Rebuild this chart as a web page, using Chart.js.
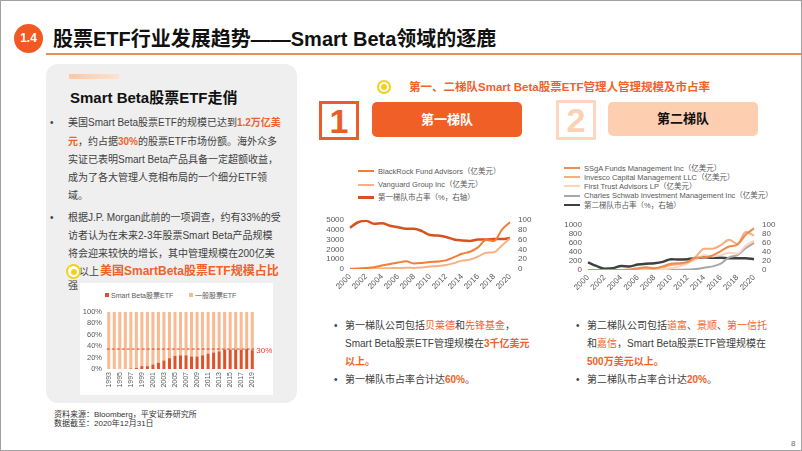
<!DOCTYPE html>
<html>
<head>
<meta charset="utf-8">
<script src="https://cdn.jsdelivr.net/npm/chart.js@4.4.0/dist/chart.umd.min.js"></script>
<style>
html, body { margin: 0; padding: 0; background: #fff; }
#slide {
    position: relative; width: 802px; height: 451px; overflow: hidden; box-sizing: border-box;
    border: 1px solid #a0a0a0;
    font-family: "Liberation Sans", "Noto Sans CJK SC", sans-serif; color: #404040;
}
.a { position: absolute; white-space: nowrap; }
.t { position: absolute; white-space: nowrap; font-size: 10px; line-height: 14px; height: 14px; }
.o { color: #f0622a; }
.ob { color: #f0622a; font-weight: bold; }
.lg { position: absolute; white-space: nowrap; font-size: 7.5px; line-height: 9px; color: #595959; }
.lg i { position: absolute; left: -20px; top: 3.5px; width: 16px; height: 2px; }
canvas { position: absolute; }
</style>
</head>
<body>
<div id="slide">
    <!-- 标题 -->
    <div class="a" style="left:13px;top:23px;width:29px;height:29px;border-radius:50%;background:#f05a22;color:#fff;font-weight:bold;font-size:12px;line-height:29px;text-align:center;">1.4</div>
    <div class="a" style="left:52px;top:25px;font-size:20px;line-height:26px;font-weight:bold;color:#111;">股票ETF行业发展趋势——Smart Beta领域的逐鹿</div>
    <div class="a" style="left:45px;top:52px;width:757px;height:2px;background:#f08a5a;"></div>

    <!-- 左侧面板 -->
    <div class="a" style="left:45px;top:63px;width:251px;height:339px;border-radius:12px;background:#efefef;"></div>
    <div class="a" style="left:68px;top:73px;width:50px;height:5px;background:linear-gradient(90deg,#fbc8a5,#fde3d1);"></div>
    <div class="a" style="left:69px;top:88px;font-size:15px;line-height:18px;font-weight:bold;color:#111;">Smart Beta股票ETF走俏</div>

    <div class="t" style="left:49px;top:115px;">•</div>
    <div class="t" style="left:67px;top:115px;">美国Smart Beta股票ETF的规模已达到<span class="ob">1.2万亿美</span></div>
    <div class="t" style="left:67px;top:133.5px;"><span class="ob">元</span>，约占据<span class="ob">30%</span>的股票ETF市场份额。海外众多</div>
    <div class="t" style="left:67px;top:151.7px;">实证已表明Smart Beta产品具备一定超额收益，</div>
    <div class="t" style="left:67px;top:170px;">成为了各大管理人竞相布局的一个细分ETF领</div>
    <div class="t" style="left:67px;top:188px;">域。</div>
    <div class="t" style="left:49px;top:209.7px;">•</div>
    <div class="t" style="left:67px;top:209.7px;">根据J.P. Morgan此前的一项调查，约有33%的受</div>
    <div class="t" style="left:67px;top:227.7px;">访者认为在未来2-3年股票Smart Beta产品规模</div>
    <div class="t" style="left:67px;top:245.5px;">将会迎来较快的增长，其中管理规模在200亿美</div>
    <div class="t" style="left:78px;top:263.5px;">以上</div>
    <div class="t" style="left:67px;top:278px;">强</div>
    <div class="a" style="left:65px;top:263px;width:11px;height:11px;border-radius:50%;border:2px solid #f5cf1c;background:#fff;"></div>
    <div class="a" style="left:69.5px;top:267.5px;width:6px;height:6px;border-radius:50%;background:#f5cf1c;"></div>
    <div class="a" style="left:99px;top:262px;font-size:12px;line-height:16px;font-weight:bold;color:#f0622a;">美国SmartBeta股票ETF规模占比</div>

    <div class="a" style="left:79px;top:282px;width:193px;height:112px;background:#fff;"></div>
    <div id="legend1"></div>
    <canvas id="c1" width="194" height="88" style="left:79px;top:302px;"></canvas>

    <!-- 中间标题 -->
    <div class="a" style="left:376px;top:79px;width:10px;height:10px;border-radius:50%;border:2px solid #f5cf1c;"></div>
    <div class="a" style="left:380px;top:83px;width:6px;height:6px;border-radius:50%;background:#f5cf1c;"></div>
    <div class="a" style="left:408px;top:78px;font-size:11.5px;line-height:16px;font-weight:bold;color:#f0622a;">第一、二梯队Smart Beta股票ETF管理人管理规模及市占率</div>

    <div class="a" style="left:318px;top:100px;width:34px;height:33px;border:3px solid #ea5d28;color:#ea5d28;font-weight:bold;font-size:34px;line-height:34px;text-align:center;">1</div>
    <div class="a" style="left:371px;top:101px;width:150px;height:35px;border-radius:5px;background:#ef5f26;color:#fff;font-weight:bold;font-size:13px;line-height:35px;text-align:center;">第一梯队</div>
    <div class="a" style="left:555px;top:99px;width:34px;height:34px;border:3px solid #fcd6bf;color:#fcd0b5;font-weight:bold;font-size:34px;line-height:35px;text-align:center;">2</div>
    <div class="a" style="left:607px;top:101px;width:150px;height:34px;border-radius:5px;background:#fdceb0;color:#111;font-weight:bold;font-size:13px;line-height:34px;text-align:center;">第二梯队</div>

    <div id="legend2"></div>
    <canvas id="c2" width="217" height="86" style="left:318px;top:206px;"></canvas>
    <div id="legend3"></div>
    <canvas id="c3" width="222" height="82" style="left:556px;top:211px;"></canvas>

    <!-- 下方说明 -->
    <div class="t" style="left:333px;top:318px;">•</div>
    <div class="t" style="left:344px;top:318px;">第一梯队公司包括<span class="o">贝莱德</span>和<span class="o">先锋基金</span>，</div>
    <div class="t" style="left:344px;top:336px;">Smart Beta股票ETF管理规模在<span class="ob">3千亿美元</span></div>
    <div class="t" style="left:344px;top:354px;"><span class="ob">以上。</span></div>
    <div class="t" style="left:333px;top:372px;">•</div>
    <div class="t" style="left:344px;top:372px;">第一梯队市占率合计达<span class="ob">60%</span>。</div>

    <div class="t" style="left:575px;top:318px;">•</div>
    <div class="t" style="left:586px;top:318px;">第二梯队公司包括<span class="o">道富</span>、<span class="o">景顺</span>、<span class="o">第一信托</span></div>
    <div class="t" style="left:586px;top:336px;">和<span class="o">嘉信</span>，Smart Beta股票ETF管理规模在</div>
    <div class="t" style="left:586px;top:354px;"><span class="ob">500万美元以上。</span></div>
    <div class="t" style="left:575px;top:372px;">•</div>
    <div class="t" style="left:586px;top:372px;">第二梯队市占率合计达<span class="ob">20%</span>。</div>

    <div class="a" style="left:53px;top:409px;font-size:8px;line-height:10px;color:#333;">资料来源：Bloomberg，平安证券研究所</div>
    <div class="a" style="left:53px;top:418px;font-size:8px;line-height:10px;color:#333;">数据截至：2020年12月31日</div>
    <div class="a" style="left:790px;top:438px;font-size:8px;line-height:10px;color:#666;">8</div>
</div>

<script>
// 美国Smart Beta股票ETF规模占比（%）
const barYears = ['1993', '1994', '1995', '1996', '1997', '1998', '1999', '2000', '2001', '2002', '2003', '2004', '2005',
    '2006', '2007', '2008', '2009', '2010', '2011', '2012', '2013', '2014', '2015', '2016', '2017', '2018', '2019'];
const smartBetaShare = [0, 0, 0, 0, 1, 2, 5, 5, 8, 11, 15, 19, 23, 24, 24, 22, 22, 24, 27, 29, 31, 34, 34, 34, 34, 35, 33];
const generalShare = [100, 100, 100, 100, 99, 98, 95, 95, 92, 89, 85, 81, 77, 76, 76, 78, 78, 76, 73, 71, 69, 66, 66, 66, 66, 65, 67];
const barNames = ['Smart Beta股票ETF', '一般股票ETF'];
const refValue = 35;
const refLabel = '30%';

// 第一、二梯队管理规模（亿美元）及市占率（%）
const lineYears = ['2000', '2001', '2002', '2003', '2004', '2005', '2006', '2007', '2008', '2009', '2010',
    '2011', '2012', '2013', '2014', '2015', '2016', '2017', '2018', '2019', '2020'];
const blackrock = [30, 50, 100, 180, 350, 500, 650, 780, 560, 620, 720, 760, 880, 1200, 1550, 1750, 2200, 2950, 2850, 4000, 4750];
const vanguard = [0, 10, 20, 40, 60, 80, 100, 120, 110, 160, 250, 300, 400, 600, 850, 950, 1250, 1650, 1700, 2400, 3100];
const tier1Share = [84, 95, 98, 92, 93, 88, 85, 82, 82, 77, 69, 68, 65, 60, 58, 57, 60, 60, 61, 61, 63];
const tier1Names = ['BlackRock Fund Advisors（亿美元）', 'Vanguard Group Inc（亿美元）', '第一梯队市占率（%，右轴）'];

const ssga = [0, 0, 0, 0, 0, 10, 40, 60, 40, 80, 140, 150, 180, 270, 280, 320, 420, 520, 560, 780, 920];
const invesco = [0, 0, 0, 0, 0, 0, 20, 40, 30, 60, 110, 130, 170, 300, 470, 470, 550, 670, 580, 840, 760];
const firstTrust = [0, 0, 0, 0, 0, 0, 0, 0, 0, 10, 40, 80, 150, 240, 330, 300, 330, 380, 360, 540, 650];
const schwab = [0, 0, 0, 0, 0, 0, 0, 0, 0, 0, 0, 5, 10, 20, 50, 80, 140, 280, 330, 480, 600];
const tier2Share = [17, 9, 3, 4, 9, 8, 12, 14, 15, 18, 24, 23, 24, 26, 28, 27, 27, 26, 26, 26, 24];
const tier2Names = ['SSgA Funds Management Inc（亿美元）', 'Invesco Capital Management LLC（亿美元）', 'First Trust Advisors LP（亿美元）',
    'Charles Schwab Investment Management Inc（亿美元）', '第二梯队市占率（%，右轴）'];

const tickColor = '#595959';
const fontFamily = '"Liberation Sans", "Noto Sans CJK SC", sans-serif';

// 图例
function buildLineLegend(id, names, colors, widths, left, tops) {
    const box = document.getElementById(id);
    names.forEach((name, i) => {
        const el = document.createElement('div');
        el.className = 'lg';
        el.style.left = left + 'px';
        el.style.top = (tops[i] - 4.5) + 'px';
        el.innerHTML = `<i style="background:${colors[i]};height:${widths[i]}px;top:${4.5 - widths[i] / 2}px"></i>${name}`;
        box.appendChild(el);
    });
}

function buildBarLegend() {
    const box = document.getElementById('legend1');
    const colors = ['#e0532a', '#f8bb93'];
    const lefts = [104, 188];
    barNames.forEach((name, i) => {
        const el = document.createElement('div');
        el.className = 'lg';
        el.style.left = lefts[i] + 'px';
        el.style.top = '290px';
        el.style.fontSize = '7px';
        el.innerHTML = `<span style="display:inline-block;width:4px;height:4px;background:${colors[i]};margin-right:2px;vertical-align:1px"></span>${name}`;
        box.appendChild(el);
    });
}

// 虚线参考线
const refLinePlugin = {
    id: 'refLine',
    afterDatasetsDraw(chart) {
        const ctx = chart.ctx;
        const y = chart.scales.y.getPixelForValue(refValue);
        const bars = chart.getDatasetMeta(0).data;
        const x1 = bars[0].x - 2;
        const x2 = bars[bars.length - 1].x + 2;
        ctx.save();
        ctx.strokeStyle = '#e2402f';
        ctx.lineWidth = 1;
        ctx.setLineDash([3, 2]);
        ctx.beginPath();
        ctx.moveTo(x1, y);
        ctx.lineTo(x2, y);
        ctx.stroke();
        ctx.fillStyle = '#e2402f';
        ctx.font = '8px ' + fontFamily;
        ctx.textBaseline = 'middle';
        ctx.fillText(refLabel, x2 + 2, y + 2);
        ctx.restore();
    }
};

const noGrid = { display: false, drawTicks: false };

function initBarChart() {
    new Chart(document.getElementById('c1'), {
        type: 'bar',
        data: {
            labels: barYears,
            datasets: [
                { label: barNames[0], data: smartBetaShare, backgroundColor: '#e0532a', barPercentage: 0.55, categoryPercentage: 1 },
                { label: barNames[1], data: generalShare, backgroundColor: '#f8bb93', barPercentage: 0.55, categoryPercentage: 1 }
            ]
        },
        options: {
            responsive: false,
            animation: false,
            layout: { padding: { top: 9, right: 19, left: 0, bottom: 0 } },
            plugins: { legend: { display: false }, tooltip: { enabled: false } },
            scales: {
                x: {
                    stacked: true,
                    grid: noGrid,
                    border: { display: false },
                    ticks: {
                        autoSkip: false, minRotation: 90, maxRotation: 90, padding: 3,
                        color: tickColor, font: { size: 7, family: fontFamily },
                        callback: (v, i) => (i % 2 === 0 ? barYears[i] : '')
                    },
                    afterFit: s => { s.height = 22; }
                },
                y: {
                    stacked: true, min: 0, max: 100,
                    grid: noGrid,
                    border: { display: false },
                    ticks: {
                        autoSkip: false, stepSize: 20, padding: 4, color: tickColor,
                        font: { size: 7.5, family: fontFamily }, callback: v => v + '%'
                    },
                    afterFit: s => { s.width = 26; }
                }
            }
        },
        plugins: [refLinePlugin]
    });
}

function lineSet(label, data, color, width, axis) {
    return {
        label: label, data: data, borderColor: color, backgroundColor: color, borderWidth: width,
        pointRadius: 0, cubicInterpolationMode: 'monotone', yAxisID: axis
    };
}

function lineOptions(leftMax, leftStep, leftW, rightW) {
    const tickFont = { size: 8, family: fontFamily };
    return {
        responsive: false,
        animation: false,
        layout: { padding: { top: 6, right: 0, left: 0, bottom: 0 } },
        plugins: { legend: { display: false }, tooltip: { enabled: false } },
        scales: {
            x: {
                grid: noGrid,
                border: { display: false },
                ticks: {
                    autoSkip: false, minRotation: 45, maxRotation: 45, padding: 3,
                    color: tickColor, font: tickFont,
                    callback: (v, i) => (i % 2 === 0 ? lineYears[i] : '')
                },
                afterFit: s => { s.height = 24; }
            },
            y: {
                position: 'left', min: 0, max: leftMax,
                grid: noGrid, border: { display: false },
                ticks: { autoSkip: false, stepSize: leftStep, padding: 6, color: tickColor, font: tickFont, callback: v => String(v) },
                afterFit: s => { s.width = leftW; }
            },
            y1: {
                position: 'right', min: 0, max: 100,
                grid: noGrid, border: { display: false },
                ticks: { autoSkip: false, stepSize: 20, padding: 8, color: tickColor, font: tickFont, callback: v => String(v) },
                afterFit: s => { s.width = rightW; }
            }
        }
    };
}

function initTier1Chart() {
    const colors = ['#f07d38', '#f7b185', '#d8521f'];
    const widths = [2, 2, 2.5];
    new Chart(document.getElementById('c2'), {
        type: 'line',
        data: {
            labels: lineYears,
            datasets: [
                lineSet(tier1Names[0], blackrock, colors[0], widths[0], 'y'),
                lineSet(tier1Names[1], vanguard, colors[1], widths[1], 'y'),
                lineSet(tier1Names[2], tier1Share, colors[2], widths[2], 'y1')
            ]
        },
        options: lineOptions(5000, 1000, 31, 26)
    });
    buildLineLegend('legend2', tier1Names, colors, widths, 377, [170, 183.5, 196.5]);
}

function initTier2Chart() {
    const colors = ['#f08a4e', '#f6ad80', '#fbd4bb', '#a8a8a8', '#3f3f3f'];
    const widths = [2, 2, 2, 2, 2.5];
    new Chart(document.getElementById('c3'), {
        type: 'line',
        data: {
            labels: lineYears,
            datasets: [
                lineSet(tier2Names[0], ssga, colors[0], widths[0], 'y'),
                lineSet(tier2Names[1], invesco, colors[1], widths[1], 'y'),
                lineSet(tier2Names[2], firstTrust, colors[2], widths[2], 'y'),
                lineSet(tier2Names[3], schwab, colors[3], widths[3], 'y'),
                lineSet(tier2Names[4], tier2Share, colors[4], widths[4], 'y1')
            ]
        },
        options: lineOptions(1000, 200, 31, 25)
    });
    buildLineLegend('legend3', tier2Names, colors, widths, 583, [167, 176, 185, 194.5, 204]);
}

buildBarLegend();
initBarChart();
initTier1Chart();
initTier2Chart();
</script>
</body>
</html>
